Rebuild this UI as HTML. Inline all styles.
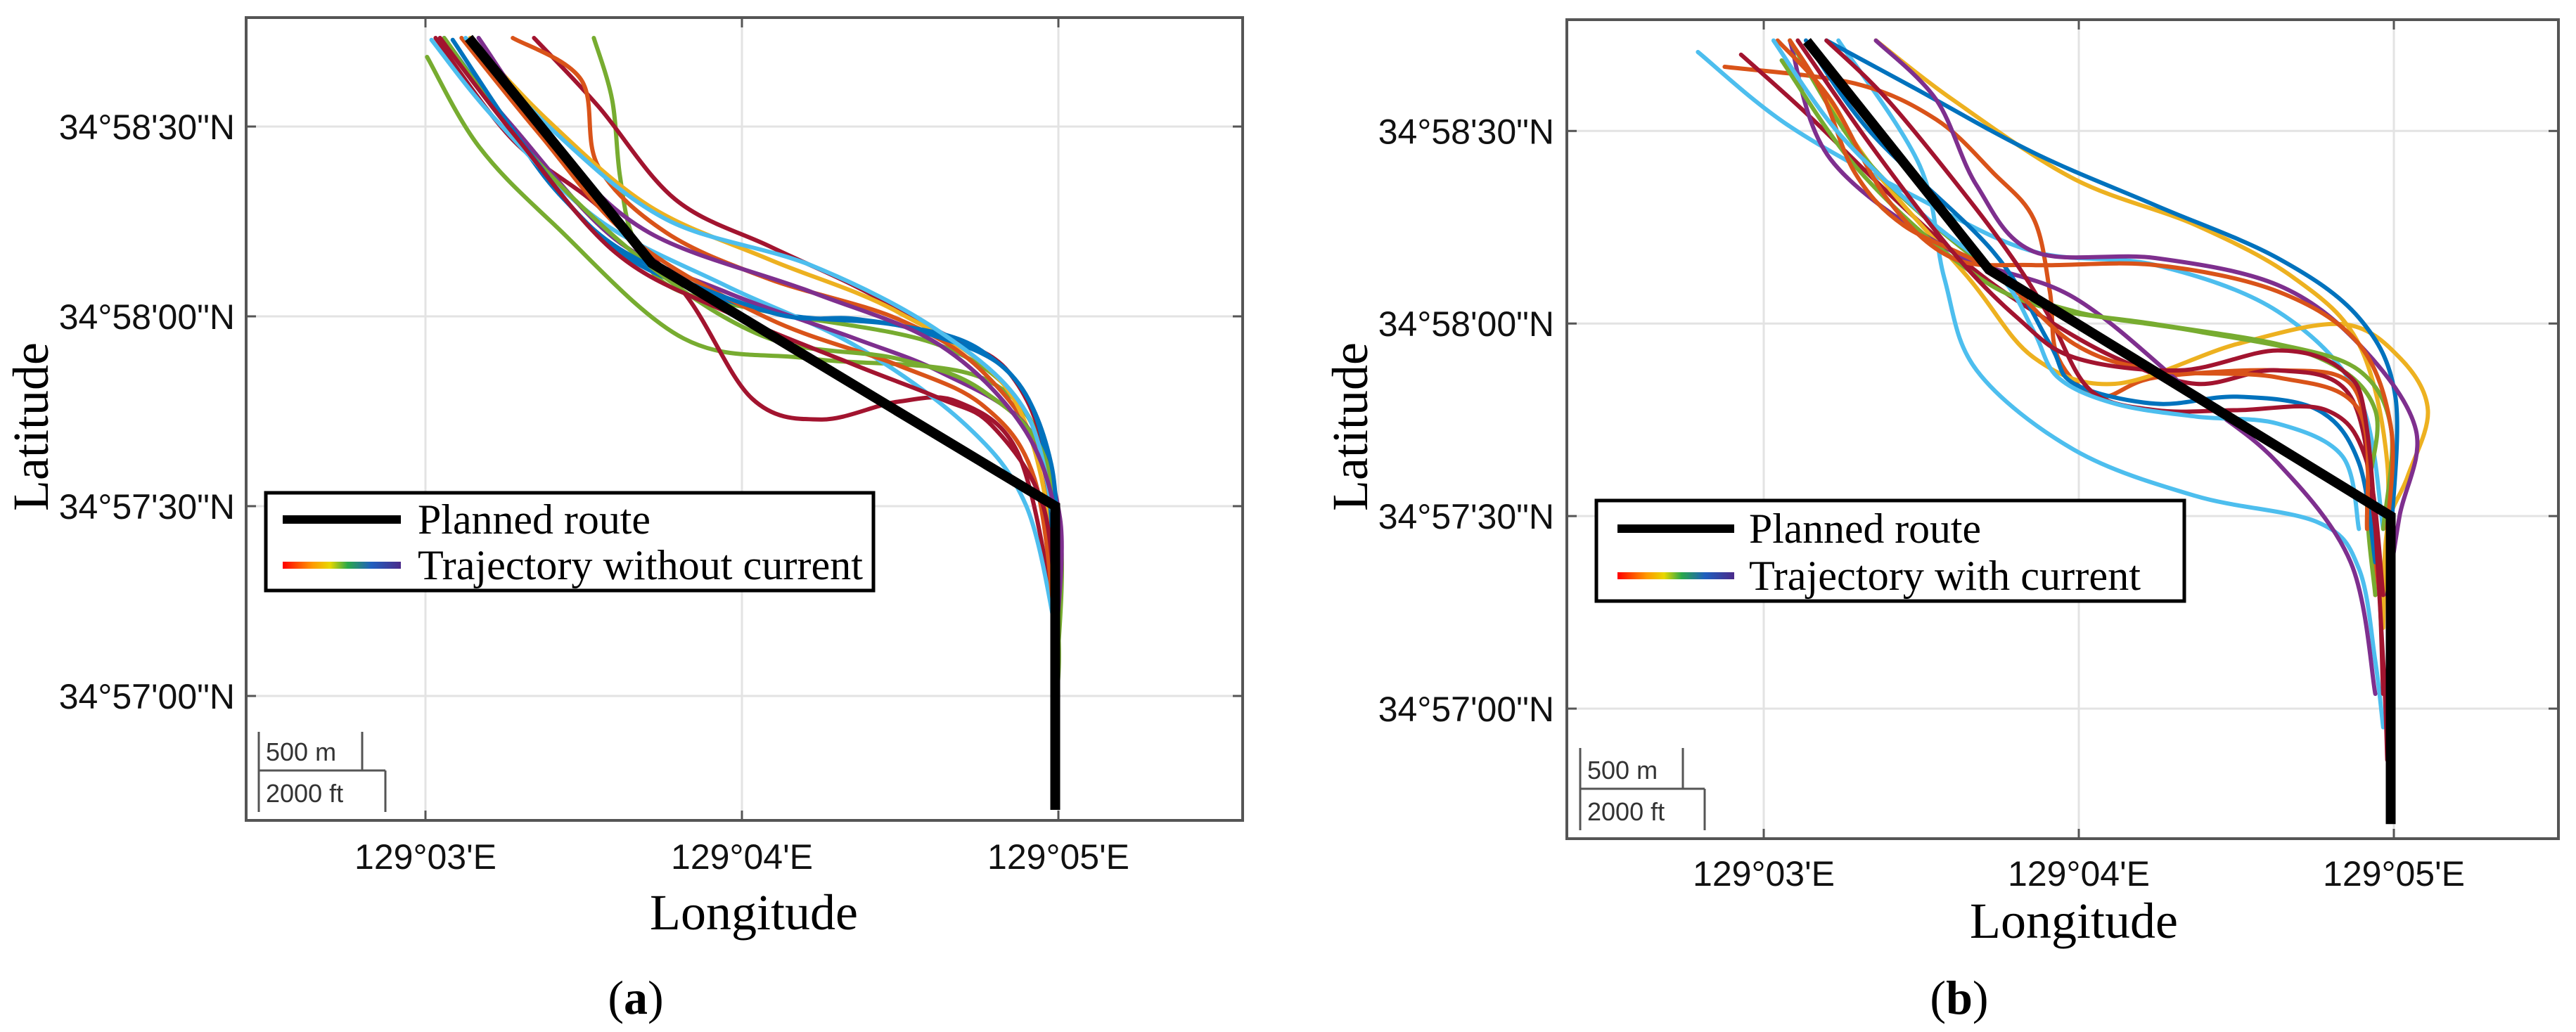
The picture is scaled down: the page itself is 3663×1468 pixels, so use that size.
<!DOCTYPE html>
<html><head><meta charset="utf-8"><style>
html,body{margin:0;padding:0;background:#fff;}
svg{display:block;}
</style></head>
<body>
<svg id="fig" width="3663" height="1468" viewBox="0 0 3663 1468" xmlns="http://www.w3.org/2000/svg">
<defs>
<linearGradient id="rainbow" x1="0" x2="1" y1="0" y2="0">
<stop offset="0" stop-color="#ff0000"/><stop offset="0.25" stop-color="#ff9900"/><stop offset="0.4" stop-color="#e8d800"/><stop offset="0.55" stop-color="#2aa84a"/><stop offset="0.75" stop-color="#1f5fbf"/><stop offset="1" stop-color="#4b2a8a"/>
</linearGradient>
</defs>
</svg>
<script>
// Planned route (lon: minutes past 129°, lat: seconds past 34°57')
const routeLon = [3.137, 3.715, 4.99, 4.99];
const routeLat = [104, 68.4, 30, -18];
const xTicks = [3, 4, 5];
const xTickLabels = ["129°03'E", "129°04'E", "129°05'E"];
const yTicks = [0, 30, 60, 90];
const yTickLabels = ["34°57'00\"N", "34°57'30\"N", "34°58'00\"N", "34°58'30\"N"];

// Panel (a): trajectories without current
const lonA = [
 [3.005,3.168,3.411,3.816,4.222,4.762,4.965,5.0,4.997],
 [3.532,3.59,3.615,3.66,3.78,4.086,4.627,4.897,5.005,4.997],
 [3.343,3.546,3.789,4.086,4.357,4.627,4.843,4.965,4.992,4.995],
 [3.032,3.276,3.546,3.816,4.032,4.249,4.492,4.681,4.870,4.978,4.995],
 [3.276,3.492,3.546,3.762,4.086,4.492,4.762,4.951,4.992],
 [3.141,3.384,3.708,4.086,4.492,4.843,4.978,4.995],
 [3.059,3.276,3.438,3.681,4.086,4.492,4.762,4.938,4.992,4.997],
 [3.019,3.222,3.546,3.951,4.357,4.708,4.897,4.992],
 [3.046,3.276,3.6,3.951,4.357,4.627,4.897,5.005,4.995],
 [3.114,3.357,3.654,4.086,4.492,4.762,4.924,4.992],
 [3.059,3.33,3.708,4.086,4.492,4.762,4.965,4.995],
 [3.086,3.33,3.6,4.086,4.357,4.573,4.843,4.978,4.997],
 [3.046,3.276,3.6,3.951,4.357,4.627,4.789,4.951,4.995],
 [3.127,3.411,3.762,4.222,4.627,4.897,4.992],
 [3.168,3.411,3.708,4.222,4.627,4.897,5.0,4.995]
];
const latA = [
 [101,86.9,74.3,56.5,53.3,50.2,36.5,10.3,0.8],
 [104,94.2,82,72,64.5,60.7,55.4,44.9,26,5],
 [104,93.2,78.5,71.1,64.8,57.5,51.2,36.5,10.3,1.9],
 [104,87.9,77.4,63.8,47,43.7,46.5,46.5,38.6,15.5,1.9],
 [104,97.4,83.7,73.2,65.9,59.6,51.2,36.5,10.3],
 [104,91.1,77.4,69,60.7,48.2,26,5],
 [104,89,78.5,68,60.7,58.6,54.4,42.8,15.5,2.9],
 [103.7,91.1,75.3,64.8,55.4,42.8,30.2,10.3],
 [104,90,72.2,63.8,56.5,51.2,42.8,28.1,10.3],
 [104,89,72.2,59.6,52.3,45.9,34.4,10.3],
 [104,85.8,68,56.5,53.3,48.2,36.5,10.3],
 [103.7,85.8,71.1,60.7,59.6,57.5,51.2,36.5,15.5],
 [104,89,70.1,60.7,52.3,47,42.8,30.2,10.3],
 [104,89,75.3,68,57.5,44.9,26],
 [104,86.9,73.2,63.8,55.4,41.8,26,10.3]
];
const colorA = ["#77AC30","#77AC30","#A2142F","#A2142F","#D95319","#EDB120","#0072BD","#4DBEEE","#7E2F8E","#D95319","#77AC30","#0072BD","#A2142F","#4DBEEE","#7E2F8E"];

// Panel (b): trajectories with current
const lonB = [
 [2.791,3.083,3.495,3.857,4.244,4.631,4.889,4.966],
 [3.237,3.495,3.573,3.676,3.986,4.373,4.76,4.889,4.941,4.966],
 [2.876,3.289,3.547,3.728,3.857,3.908,3.934,4.063,4.244,4.631,4.863,4.915,4.941],
 [2.928,3.134,3.392,3.65,3.857,4.115,4.373,4.631,4.863,4.941,4.966],
 [3.356,3.599,3.986,4.373,4.683,4.889,4.979,4.966],
 [3.083,3.341,3.65,3.857,4.115,4.502,4.837,5.018,5.108,5.044,4.979,4.966],
 [3.199,3.47,3.857,4.244,4.631,4.889,5.005,4.992],
 [3.356,3.547,3.676,3.857,4.244,4.631,4.889,5.07,5.018,4.979],
 [3.083,3.212,3.599,3.986,4.373,4.631,4.863,4.941],
 [3.057,3.289,3.599,3.857,4.244,4.631,4.889,4.992,4.966],
 [3.083,3.341,3.754,3.986,4.373,4.76,4.941,4.915,4.941],
 [3.134,3.341,3.728,3.908,3.986,4.244,4.502,4.76,4.889,4.941],
 [3.044,3.212,3.392,3.599,3.857,4.244,4.631,4.889,4.992,4.979],
 [3.199,3.392,3.65,3.805,3.908,4.037,4.244,4.502,4.786,4.915,4.966],
 [3.083,3.186,3.289,3.444,3.728,3.986,4.244,4.631,4.889,4.915],
 [3.031,3.237,3.521,3.754,3.857,3.934,4.115,4.373,4.631,4.837,4.889],
 [3.108,3.341,3.599,3.805,3.986,4.321,4.631,4.837,4.915,4.966,4.979]
];
const latB = [
 [102.3,90.7,79.4,71.2,69.1,61.9,48.6,28],
 [104.1,84.6,67.1,52.7,40.3,33.1,29,21.8,7.4,-2.9],
 [100,97.4,91.8,83.5,76.3,65,54.7,48.6,51.6,52.7,50.6,38.3,17.7],
 [101.9,92.8,80.5,69.1,61.9,54.7,50.6,52.7,48.6,28,2.3],
 [104.1,94.9,82.5,75.3,67.1,56.8,38.3,17.7],
 [104.1,84.6,67.1,54.7,50.6,56.8,59.9,54.7,46.5,36.2,28,12.6],
 [104.1,96.9,86.6,78.4,70.2,60.9,48.6,28],
 [104.1,94.9,81.5,71.2,70.2,66,56.8,43.4,30,17.7],
 [104.1,85.6,71.2,64,48.6,38.3,22.8,2.3],
 [101,84.6,70.2,63,59.9,56.8,52.7,43.4,28],
 [104.1,84.6,67.1,61.9,58.8,54.7,46.5,32.1,17.7],
 [104.1,89.7,71.2,56.8,50.6,47.5,48.6,46.5,38.3,22.8],
 [104.1,94.9,79.4,70.2,69.1,69.1,65,56.8,43.4,28],
 [104.1,94.9,79.4,69.1,60.9,49.6,46.5,46.5,46.5,38.3,17.7],
 [104.1,95.9,83.5,75.3,68.1,56.8,52.7,51.6,46.5,28],
 [104.1,89.7,76.3,67.1,58.8,51.6,47.5,45.5,44.4,39.3,28],
 [104.1,87.7,71.2,60.9,54.7,52.7,55.8,52.7,43.4,7.4,-8]
];
const colorB = ["#4DBEEE","#4DBEEE","#D95319","#A2142F","#EDB120","#EDB120","#0072BD","#7E2F8E","#7E2F8E","#77AC30","#77AC30","#0072BD","#D95319","#A2142F","#D95319","#4DBEEE","#A2142F"];

const NS = "http://www.w3.org/2000/svg";
const svg = document.getElementById('fig');
function mk(tag, attrs, parent) {
  const e = document.createElementNS(NS, tag);
  for (const k in attrs) e.setAttribute(k, attrs[k]);
  (parent || svg).appendChild(e);
  return e;
}
function smoothPath(pts) {
  let d = "M" + pts[0][0].toFixed(1) + "," + pts[0][1].toFixed(1);
  for (let i = 0; i < pts.length - 1; i++) {
    const p0 = pts[i - 1] || pts[i], p1 = pts[i], p2 = pts[i + 1], p3 = pts[i + 2] || p2;
    const c1 = [p1[0] + (p2[0] - p0[0]) / 6, p1[1] + (p2[1] - p0[1]) / 6];
    const c2 = [p2[0] - (p3[0] - p1[0]) / 6, p2[1] - (p3[1] - p1[1]) / 6];
    d += " C" + c1[0].toFixed(1) + "," + c1[1].toFixed(1) + " " + c2[0].toFixed(1) + "," + c2[1].toFixed(1) + " " + p2[0].toFixed(1) + "," + p2[1].toFixed(1);
  }
  return d;
}

function panel(cfg) {
  const g = mk('g', {});
  
  
  const X = v => cfg.x0 + (v - 3) * cfg.kx;
  const Y = v => cfg.y0 - v * cfg.ky;
  const L = cfg.left, R = cfg.right, T = cfg.top, B = cfg.bottom;
  xTicks.forEach((t, i) => {
    const gl = mk('line', {x1: X(t), x2: X(t), y1: T, y2: B, stroke: '#e3e3e3', 'stroke-width': 3}, g);
    
    
    mk('line', {x1: X(t), x2: X(t), y1: B, y2: B - 14, stroke: '#555', 'stroke-width': 3}, g);
    mk('line', {x1: X(t), x2: X(t), y1: T, y2: T + 14, stroke: '#555', 'stroke-width': 3}, g);
    const tl = mk('text', {x: X(t), y: cfg.xLabelY, 'text-anchor': 'middle', 'font-family': 'Liberation Sans, sans-serif', 'font-size': 50, fill: '#111'}, g);
    tl.textContent = xTickLabels[i];
    
    
  });
  yTicks.forEach((t, i) => {
    const gl = mk('line', {x1: L, x2: R, y1: Y(t), y2: Y(t), stroke: '#e3e3e3', 'stroke-width': 3}, g);
    
    
    mk('line', {x1: L, x2: L + 14, y1: Y(t), y2: Y(t), stroke: '#555', 'stroke-width': 3}, g);
    mk('line', {x1: R, x2: R - 14, y1: Y(t), y2: Y(t), stroke: '#555', 'stroke-width': 3}, g);
    const tl = mk('text', {x: cfg.yLabelX, y: Y(t) + 18, 'text-anchor': 'end', 'font-family': 'Liberation Sans, sans-serif', 'font-size': 50, fill: '#111'}, g);
    tl.textContent = yTickLabels[i];
    
    
  });
  cfg.lon.forEach((lons, j) => {
    const pts = lons.map((v, k) => [X(v), Y(cfg.lat[j][k])]);
    const p = mk('path', {d: smoothPath(pts), fill: 'none', stroke: cfg.colors[j], 'stroke-width': 6, 'stroke-linejoin': 'round', 'stroke-linecap': 'round'}, g);
    
    
  });
  const rp = routeLon.map((v, k) => X(v).toFixed(1) + "," + Y(routeLat[k]).toFixed(1)).join(" ");
  const route = mk('polyline', {points: rp, fill: 'none', stroke: '#000', 'stroke-width': 14, 'stroke-linejoin': 'miter'}, g);
  
  
  const box = mk('rect', {x: L, y: T, width: R - L, height: B - T, fill: 'none', stroke: '#555', 'stroke-width': 4}, g);
  
  
  const sb = cfg.sb;
  const sg = mk('g', {stroke: '#555', 'stroke-width': 3, fill: 'none'}, g);
  
  
  mk('line', {x1: sb.x, x2: sb.x, y1: sb.y1, y2: sb.y3}, sg);
  mk('line', {x1: sb.x, x2: sb.x3, y1: sb.y2, y2: sb.y2}, sg);
  mk('line', {x1: sb.x2, x2: sb.x2, y1: sb.y1, y2: sb.y2}, sg);
  mk('line', {x1: sb.x3, x2: sb.x3, y1: sb.y2, y2: sb.y3}, sg);
  const s1 = mk('text', {x: sb.x + 10, y: sb.y2 - 14, 'font-family': 'Liberation Sans, sans-serif', 'font-size': 36, fill: '#333'}, g);
  s1.textContent = '500 m';
  
  
  const s2 = mk('text', {x: sb.x + 10, y: sb.y3 - 14, 'font-family': 'Liberation Sans, sans-serif', 'font-size': 36, fill: '#333'}, g);
  s2.textContent = '2000 ft';
  
  
  const lg = cfg.legend;
  const leg = mk('g', {}, g);
  
  
  mk('rect', {x: lg.x, y: lg.y, width: lg.w, height: lg.h, fill: '#fff', stroke: '#000', 'stroke-width': 5}, leg);
  const e1 = mk('line', {x1: lg.lx1, x2: lg.lx2, y1: lg.y1, y2: lg.y1, stroke: '#000', 'stroke-width': 12}, leg);
  
  
  const e2 = mk('rect', {x: lg.lx1, y: lg.y2 - 5, width: lg.lx2 - lg.lx1, height: 10, fill: 'url(#rainbow)'}, leg);
  
  
  const t1 = mk('text', {x: lg.tx, y: lg.y1 + 20, 'font-family': 'Liberation Serif, serif', 'font-size': 60, fill: '#000', textLength: lg.t1w, lengthAdjust: 'spacingAndGlyphs'}, leg);
  t1.textContent = 'Planned route';
  
  
  const t2 = mk('text', {x: lg.tx, y: lg.y2 + 20, 'font-family': 'Liberation Serif, serif', 'font-size': 60, fill: '#000', textLength: lg.t2w, lengthAdjust: 'spacingAndGlyphs'}, leg);
  t2.textContent = cfg.legendText;
  
  
  const yt = mk('text', {x: 0, y: 0, transform: 'translate(' + cfg.yTitle[0] + ',' + cfg.yTitle[1] + ') rotate(-90)', 'text-anchor': 'middle', 'font-family': 'Liberation Serif, serif', 'font-size': 72, fill: '#000'}, g);
  yt.textContent = 'Latitude';
  
  
  const xt = mk('text', {x: cfg.xTitle[0], y: cfg.xTitle[1], 'text-anchor': 'middle', 'font-family': 'Liberation Serif, serif', 'font-size': 72, fill: '#000'}, g);
  xt.textContent = 'Longitude';
  
  
  const cap = mk('text', {x: cfg.cap[0], y: cfg.cap[1], 'text-anchor': 'middle', 'font-family': 'Liberation Serif, serif', 'font-size': 68, fill: '#000'}, g);
  cap.innerHTML = '(<tspan font-weight="bold">' + cfg.capLetter + '</tspan>)';
  
  
}

panel({name: 'panel-a-without-current', left: 350, right: 1767, top: 25, bottom: 1167,
  x0: 605, kx: 450, y0: 990, ky: 9,
  xLabelY: 1236, yLabelX: 334,
  lon: lonA, lat: latA, colors: colorA,
  sb: {x: 368, x2: 515, x3: 548, y1: 1041, y2: 1096, y3: 1155},
  legend: {x: 378, y: 701, w: 864, h: 139, lx1: 402, lx2: 570, y1: 739, y2: 804, tx: 594, t1w: 331, t2w: 633},
  legendText: 'Trajectory without current',
  yTitle: [68, 607], xTitle: [1072, 1322], cap: [904, 1442], capLetter: 'a'});

panel({name: 'panel-b-with-current', left: 2228, right: 3638, top: 28, bottom: 1193,
  x0: 2508, kx: 448, y0: 1008, ky: 9.13,
  xLabelY: 1260, yLabelX: 2210,
  lon: lonB, lat: latB, colors: colorB,
  sb: {x: 2247, x2: 2393, x3: 2424, y1: 1064, y2: 1122, y3: 1181},
  legend: {x: 2270, y: 712, w: 836, h: 143, lx1: 2300, lx2: 2466, y1: 752, y2: 819, tx: 2487, t1w: 330, t2w: 557},
  legendText: 'Trajectory with current',
  yTitle: [1944, 607], xTitle: [2949, 1334], cap: [2786, 1442], capLetter: 'b'});
</script>
</body></html>
